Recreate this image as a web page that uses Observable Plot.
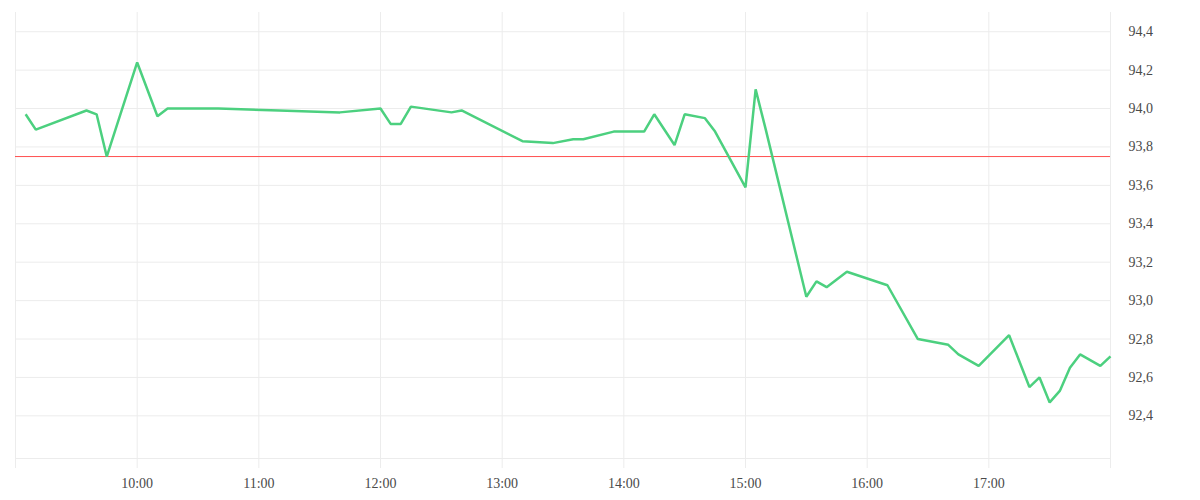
<!DOCTYPE html>
<html>
<head>
<meta charset="utf-8">
<script src="https://cdn.jsdelivr.net/npm/d3@7"></script>
<script src="https://cdn.jsdelivr.net/npm/@observablehq/plot@0.6"></script>
<style>
  html, body { margin: 0; padding: 0; background: #fff; }
  #chart svg { display: block; }
</style>
</head>
<body>
<div id="chart"></div>
<script>
const day = "2024-01-02";
const times = ["09:05","09:10","09:35","09:40","09:45","10:00","10:10","10:15","10:40","11:10","11:40","12:00","12:05","12:10","12:15","12:35","12:40","13:10","13:25","13:35","13:40","13:55","14:10","14:15","14:25","14:30","14:40","14:45","15:00","15:05","15:10","15:30","15:35","15:40","15:50","16:10","16:25","16:40","16:45","16:55","17:10","17:20","17:25","17:30","17:35","17:40","17:45","17:55","18:00"];
const prices = [93.97,93.89,93.99,93.97,93.75,94.24,93.96,94.00,94.00,93.99,93.98,94.00,93.92,93.92,94.01,93.98,93.99,93.83,93.82,93.84,93.84,93.88,93.88,93.97,93.81,93.97,93.95,93.88,93.59,94.10,93.89,93.02,93.10,93.07,93.15,93.08,92.80,92.77,92.72,92.66,92.82,92.55,92.60,92.47,92.53,92.65,92.72,92.66,92.71];
const referencePrice = 93.75;
const gridHours = ["09:00","10:00","11:00","12:00","13:00","14:00","15:00","16:00","17:00","18:00"];
const labelHours = ["10:00","11:00","12:00","13:00","14:00","15:00","16:00","17:00"];
const yTicks = [92.4,92.6,92.8,93.0,93.2,93.4,93.6,93.8,94.0,94.2,94.4];
const yDomain = [92.178, 94.5];

const toDate = s => new Date(`${day}T${s}:00Z`);
const data = times.map((t, i) => ({time: toDate(t), price: prices[i]}));
const gridDates = gridHours.map(toDate);
const labelDates = labelHours.map(toDate);

const fmtComma = d => d3.format(".1f")(d).replace(".", ",");

const chart = Plot.plot({
  width: 1200,
  height: 500,
  marginLeft: 15,
  marginRight: 90,
  marginTop: 12,
  marginBottom: 42,
  style: {fontFamily: "'Liberation Serif', serif", color: "#444", background: "#fff"},
  x: {type: "utc", domain: [gridDates[0], gridDates[gridDates.length - 1]], label: null},
  y: {domain: yDomain, label: null},
  marks: [
    Plot.ruleY(yTicks, {stroke: "#ececec", strokeWidth: 1}),
    Plot.ruleX(gridDates, {stroke: "#ececec", strokeWidth: 1, insetBottom: -10}),
    Plot.frame({anchor: "bottom", stroke: "#ececec", strokeWidth: 1}),
    Plot.ruleY([referencePrice], {stroke: "#ff4f4f", strokeWidth: 1}),
    Plot.line(data, {x: "time", y: "price", stroke: "#4cd07f", strokeWidth: 2.5, strokeLinejoin: "miter", strokeLinecap: "butt"}),
    Plot.axisX({ticks: labelDates, tickFormat: d3.utcFormat("%H:%M"), tickSize: 0, tickPadding: 20, fontSize: 14, fill: "#4a4a4a", label: null}),
    Plot.axisY({anchor: "right", ticks: yTicks, tickFormat: fmtComma, tickSize: 0, tickPadding: 18, fontSize: 14, fill: "#4a4a4a", textAnchor: "start", label: null})
  ]
});
document.getElementById("chart").appendChild(chart);
</script>
</body>
</html>
